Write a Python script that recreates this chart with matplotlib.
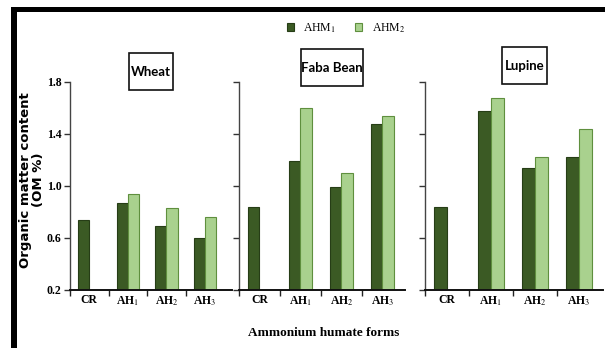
import numpy as np
import matplotlib
matplotlib.use("Agg")
import matplotlib.pyplot as plt
from matplotlib.patches import Rectangle

# organic matter content (OM %) per crop, CR has a single value
categories = ["CR", "AH$_1$", "AH$_2$", "AH$_3$"]
crops = ["Wheat", "Faba Bean", "Lupine"]
ahm1 = {
    "Wheat": [0.74, 0.87, 0.69, 0.60],
    "Faba Bean": [0.84, 1.19, 0.99, 1.48],
    "Lupine": [0.84, 1.58, 1.14, 1.22],
}
ahm2 = {
    "Wheat": [np.nan, 0.94, 0.83, 0.76],
    "Faba Bean": [np.nan, 1.60, 1.10, 1.54],
    "Lupine": [np.nan, 1.68, 1.22, 1.44],
}
yticks = [0.2, 0.6, 1.0, 1.4, 1.8]

W, H = 605, 348
dark, light = "#3b5a24", "#a9d18e"
dark_edge, light_edge = "#263d16", "#5f8f3e"
serif = "Liberation Serif"
plt.rcParams["mathtext.fontset"] = "stix"

fig = plt.figure(figsize=(W / 100, H / 100), dpi=100)

def px_rect(x0, x1, y_top, y_bot):
    return [x0 / W, 1 - y_bot / H, (x1 - x0) / W, (y_bot - y_top) / H]

# panel extents in pixels: left, right, right xlim
panels = [(70, 232, 3.7), (239, 405, 3.55), (425, 603, 3.55)]
boxes = [(129, 173, 53, 90), (301, 363, 49, 86), (502, 547, 47, 84)]

x = np.arange(len(categories))
bw = 0.29
handles = None
for i, (crop, (x0, x1, xr)) in enumerate(zip(crops, panels)):
    ax = fig.add_axes(px_rect(x0, x1, 82, 290))
    b1 = ax.bar(x - bw / 2, ahm1[crop], bw, bottom=0, color=dark,
                edgecolor=dark_edge, linewidth=0.8, label="AHM$_1$")
    b2 = ax.bar(x + bw / 2, ahm2[crop], bw, bottom=0, color=light,
                edgecolor=light_edge, linewidth=0.8, label="AHM$_2$")
    handles = [b1, b2]
    ax.set_ylim(0.2, 1.8)
    ax.set_xlim(-0.5, xr)
    ax.set_yticks(yticks)
    if i == 0:
        ax.set_yticklabels([f"{v:.1f}" for v in yticks], fontfamily=serif,
                           fontweight="bold", fontsize=8.5)
    else:
        ax.set_yticklabels([])
    # tick marks between categories, labels at the centres
    ax.set_xticks(np.arange(-0.5, 3, 1.0))
    ax.set_xticklabels([])
    ax.set_xticks(x, minor=True)
    ax.set_xticklabels(categories, minor=True, fontfamily=serif,
                       fontweight="bold", fontsize=8.5)
    ax.tick_params(axis="x", which="major", direction="out", length=4,
                   width=1, color="#222222")
    ax.tick_params(axis="x", which="minor", length=0, pad=3)
    ax.tick_params(axis="y", direction="out", length=4, width=1,
                   color="#333333", pad=2)
    for s in ["top", "right"]:
        ax.spines[s].set_visible(False)
    ax.spines["left"].set_color("#444444")
    ax.spines["left"].set_linewidth(1.0)
    ax.spines["bottom"].set_color("#111111")
    ax.spines["bottom"].set_linewidth(1.4)

    bx0, bx1, by0, by1 = boxes[i]
    fig.add_artist(Rectangle((bx0 / W, 1 - by1 / H), (bx1 - bx0) / W,
                             (by1 - by0) / H, transform=fig.transFigure,
                             facecolor="white", edgecolor="#111111", lw=1.2))
    fig.text((bx0 + bx1) / 2 / W, 1 - (by0 + by1) / 2 / H, crop,
             ha="center", va="center", fontsize=9.5, fontweight="bold",
             family="Lato")

fig.text(32 / W, 1 - 180 / H, "Organic matter content\n(OM %)", rotation=90,
         ha="center", va="center", fontsize=9.5, fontweight="bold",
         linespacing=1.05)
fig.text(324 / W, 1 - 333 / H, "Ammonium humate forms", ha="center",
         va="center", fontsize=9.5, fontweight="bold", fontfamily=serif)

fig.legend(handles, ["AHM$_1$", "AHM$_2$"], loc="center",
           bbox_to_anchor=(346 / W, 1 - 28 / H), ncol=2, frameon=False,
           handlelength=0.6, handleheight=0.6, handletextpad=0.8,
           columnspacing=1.6, prop={"family": serif, "size": 8.5})

# thick black frame along the top and left edges
fig.add_artist(Rectangle((11 / W, 0), 6 / W, 1 - 7 / H,
                         transform=fig.transFigure, color="black", lw=0))
fig.add_artist(Rectangle((11 / W, 1 - 12 / H), 1 - 11 / W, 5 / H,
                         transform=fig.transFigure, color="black", lw=0))

fig.savefig("out.png", dpi=100)
